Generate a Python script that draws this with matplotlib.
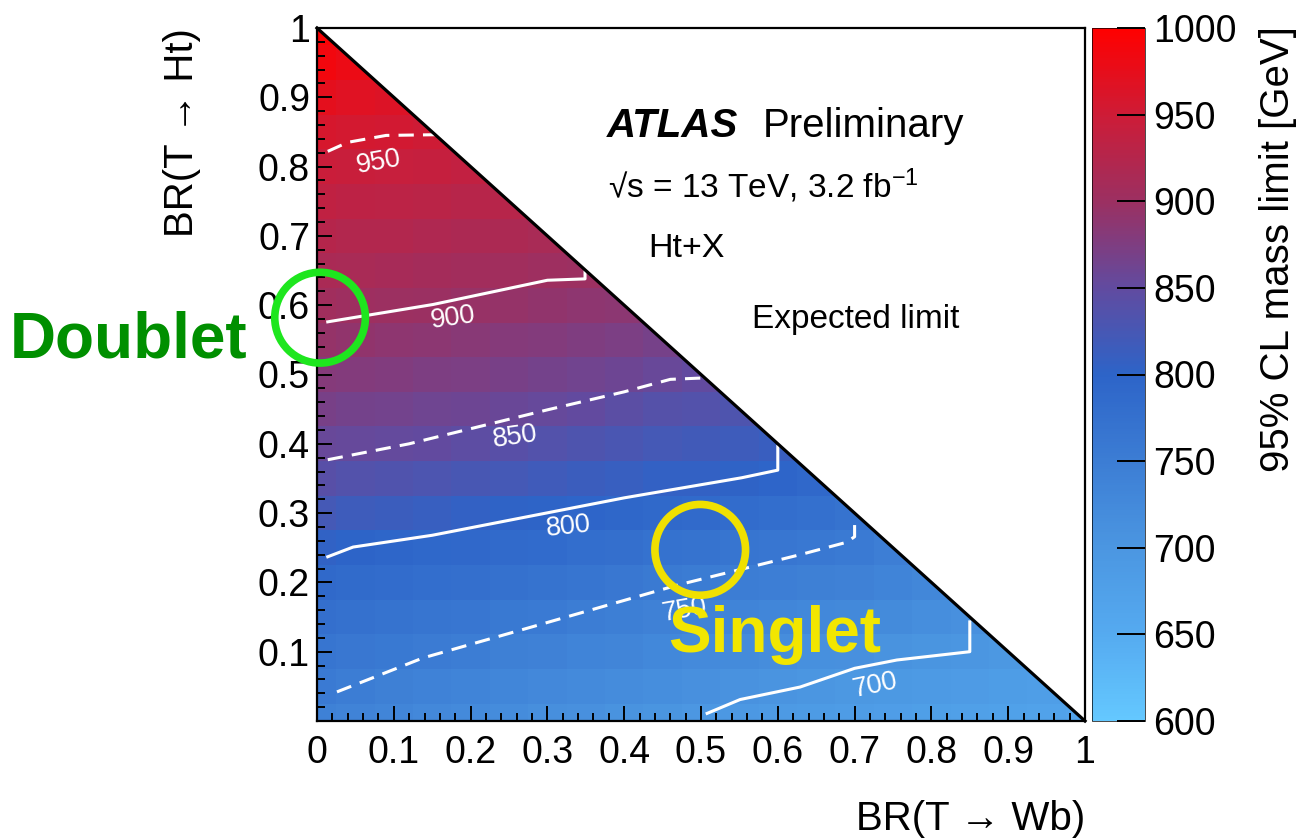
import numpy as np
import matplotlib
matplotlib.use("Agg")
import matplotlib.pyplot as plt
from matplotlib.colors import LinearSegmentedColormap, Normalize
from matplotlib.patches import Polygon, Ellipse
from matplotlib.ticker import MultipleLocator

plt.rcParams['font.family'] = ['Liberation Sans', 'DejaVu Sans']
plt.rcParams['mathtext.fontset'] = 'custom'
plt.rcParams['mathtext.rm'] = 'Liberation Sans'
plt.rcParams['mathtext.it'] = 'Liberation Sans:italic'

# bin centres in BR(T->Wb) and BR(T->Ht)
br_steps = [0.0, 0.05, 0.1, 0.15, 0.2, 0.25, 0.3, 0.35, 0.4, 0.45, 0.5,
            0.55, 0.6, 0.65, 0.7, 0.75, 0.8, 0.85, 0.9, 0.95, 1.0]

# expected mass limit [GeV], one list per BR(T->Wb) column, going up in BR(T->Ht)
limit_cols = [
    [743, 755, 767, 778, 790, 804, 822, 841, 856, 869, 881, 894, 905, 915, 926, 936, 946, 958, 972, 986, 995],
    [738, 750, 762, 774, 787, 799, 817, 837, 854, 866, 879, 891, 903, 913, 923, 934, 944, 955, 968, 980],
    [733, 745, 758, 770, 783, 796, 814, 834, 852, 865, 877, 889, 901, 911, 922, 932, 943, 954, 965],
    [728, 740, 754, 767, 780, 793, 810, 830, 850, 862, 874, 887, 899, 909, 920, 930, 941, 951],
    [724, 737, 750, 764, 777, 791, 806, 826, 846, 860, 872, 884, 896, 907, 917, 928, 938],
    [719, 732, 745, 759, 774, 788, 803, 822, 842, 857, 869, 881, 894, 905, 916, 927],
    [715, 728, 741, 755, 770, 785, 800, 818, 837, 854, 866, 879, 891, 903, 913],
    [711, 724, 737, 750, 766, 781, 797, 814, 832, 850, 863, 876, 888, 901],
    [707, 720, 733, 746, 761, 777, 794, 810, 828, 845, 860, 873, 886],
    [703, 716, 729, 742, 757, 773, 790, 806, 823, 839, 855, 868],
    [698, 711, 724, 738, 752, 770, 788, 805, 820, 836, 851],
    [695, 708, 722, 736, 750, 767, 784, 802, 817, 832],
    [691, 704, 718, 732, 747, 764, 781, 798, 812],
    [688, 700, 714, 729, 744, 760, 776, 792],
    [685, 696, 711, 726, 741, 756, 770],
    [682, 693, 707, 722, 736, 748],
    [679, 690, 703, 717, 730],
    [676, 687, 700, 712],
    [674, 684, 696],
    [671, 681],
    [668],
]

# contour lines
c950_x = [0.014, 0.04, 0.09, 0.154]
c950_y = [0.822, 0.835, 0.845, 0.846]
c900_x = [0.014, 0.151, 0.30, 0.349, 0.349]
c900_y = [0.576, 0.601, 0.636, 0.638, 0.648]
c850_x = [0.014, 0.12, 0.30, 0.40, 0.46, 0.503]
c850_y = [0.377, 0.40, 0.449, 0.475, 0.493, 0.495]
c800_x = [0.014, 0.047, 0.15, 0.40, 0.553, 0.60, 0.60]
c800_y = [0.237, 0.251, 0.268, 0.322, 0.351, 0.362, 0.396]
c750_x = [0.026, 0.138, 0.29, 0.469, 0.629, 0.69, 0.70, 0.70]
c750_y = [0.042, 0.091, 0.139, 0.196, 0.24, 0.258, 0.266, 0.29]
c700_x = [0.508, 0.551, 0.629, 0.70, 0.755, 0.85, 0.85]
c700_y = [0.011, 0.031, 0.049, 0.076, 0.088, 0.10, 0.143]

# label text, position, rotation
contour_labels = [("950", 0.08, 0.806, 10), ("900", 0.177, 0.582, 8),
                  ("850", 0.258, 0.41, 8), ("800", 0.327, 0.28, 6),
                  ("750", 0.479, 0.16, 10), ("700", 0.727, 0.052, 12)]

cbar_ticks = [600, 650, 700, 750, 800, 850, 900, 950, 1000]
xtick_vals = [0, 0.1, 0.2, 0.3, 0.4, 0.5, 0.6, 0.7, 0.8, 0.9, 1]
xtick_lbls = ["0", "0.1", "0.2", "0.3", "0.4", "0.5", "0.6", "0.7", "0.8", "0.9", "1"]
ytick_lbls = ["", "0.1", "0.2", "0.3", "0.4", "0.5", "0.6", "0.7", "0.8", "0.9", "1"]

# palette like the ROOT one
cmap = LinearSegmentedColormap.from_list("atlas", [
    (0.0, (100/255, 200/255, 255/255)),
    (0.125, (85/255, 170/255, 240/255)),
    (0.25, (75/255, 150/255, 225/255)),
    (0.375, (60/255, 125/255, 212/255)),
    (0.5, (45/255, 100/255, 200/255)),
    (0.625, (97/255, 75/255, 160/255)),
    (0.75, (155/255, 48/255, 98/255)),
    (0.875, (205/255, 28/255, 55/255)),
    (1.0, (255/255, 0, 0)),
])
norm = Normalize(600, 1000)

grid = np.full((21, 21), np.nan)
for i, col in enumerate(limit_cols):
    grid[:len(col), i] = col
half = (br_steps[1] - br_steps[0]) / 2
edges = [b - half for b in br_steps] + [br_steps[-1] + half]

fig = plt.figure(figsize=(13.03, 8.39), dpi=100)
ax = fig.add_axes([317/1303, 1 - 721/839, 768/1303, 693/839])
cax = fig.add_axes([1092/1303, 1 - 721/839, 53/1303, 693/839])

mesh = ax.pcolormesh(edges, edges, grid, cmap=cmap, norm=norm, zorder=1)
ax.add_patch(Polygon([(0, 1), (1, 0), (1.05, 1.05)], closed=True, fc="white", ec="none", zorder=2))
ax.plot([0, 1], [1, 0], color="black", lw=2.3, zorder=5, clip_on=False)

solid = dict(color="white", lw=2.2, zorder=3)
dashed = dict(color="white", lw=2.2, zorder=3, dashes=(5, 3))
ax.plot(c950_x, c950_y, **dashed)
ax.plot(c900_x, c900_y, **solid)
ax.plot(c850_x, c850_y, **dashed)
ax.plot(c800_x, c800_y, **solid)
ax.plot(c750_x, c750_y, **dashed)
ax.plot(c700_x, c700_y, **solid)
for txt, lx, ly, rot in contour_labels:
    ax.text(lx, ly, txt, color="white", fontsize=19.5, rotation=rot,
            ha="center", va="center", zorder=4)

ax.set_xlim(0, 1)
ax.set_ylim(0, 1)
ax.set_xticks(xtick_vals)
ax.set_xticklabels(xtick_lbls)
ax.set_yticks(xtick_vals)
ax.set_yticklabels(ytick_lbls)
ax.xaxis.set_minor_locator(MultipleLocator(0.02))
ax.yaxis.set_minor_locator(MultipleLocator(0.02))
ax.tick_params(which="both", direction="in", top=True, right=True, width=1.4, labelsize=27)
ax.tick_params(which="major", length=11)
ax.tick_params(which="minor", length=5.5)
ax.tick_params(axis="x", pad=10)
ax.tick_params(axis="y", pad=5)
for sp in ax.spines.values():
    sp.set_linewidth(1.6)
    sp.set_zorder(6)

ax.text(1.0, -0.157, "BR(T \u2192 Wb)", transform=ax.transAxes, fontsize=29,
        ha="right", va="baseline")
ax.text(-0.176, 1.0, "BR(T \u2192 Ht)", transform=ax.transAxes, fontsize=29,
        rotation=90, ha="center", va="top")

cb = fig.colorbar(mesh, cax=cax, ticks=cbar_ticks)
cb.outline.set_linewidth(0.5)
cax.tick_params(direction="in", length=20, width=1.4, labelsize=27, pad=6,
                right=True, left=False)
fig.text(1278/1303, 1 - 26/839, "95% CL mass limit [GeV]", fontsize=29,
         rotation=90, ha="center", va="top")

# ATLAS label block
ax.text(0.378, 0.843, "ATLAS", fontsize=29, fontweight="bold", fontstyle="italic",
        ha="left", va="baseline")
ax.text(0.580, 0.843, "Preliminary", fontsize=29, ha="left", va="baseline")
ax.text(0.379, 0.755, "\u221as = 13 TeV, 3.2 fb$^{-1}$", fontsize=24, ha="left", va="baseline")
ax.text(0.431, 0.669, "Ht+X", fontsize=24.5, ha="left", va="baseline")
ax.text(0.566, 0.567, "Expected limit", fontsize=24, ha="left", va="baseline")

# hand-drawn annotations
ax.add_patch(Ellipse((0.004, 0.582), 0.118, 0.131, fill=False, ec="#1ee61e", lw=5.5,
                     zorder=7, clip_on=False))
ax.text(-0.40, 0.524, "Doublet", fontsize=46, fontweight="bold", color="#008f00",
        ha="left", va="baseline", zorder=7)
ax.add_patch(Ellipse((0.499, 0.247), 0.118, 0.131, fill=False, ec="#f0e000", lw=5.5,
                     zorder=7, clip_on=False))
ax.text(0.457, 0.0996, "Singlet", fontsize=46, fontweight="bold", color="#f2e600",
        ha="left", va="baseline", zorder=7)

fig.savefig("out.png", dpi=100)
